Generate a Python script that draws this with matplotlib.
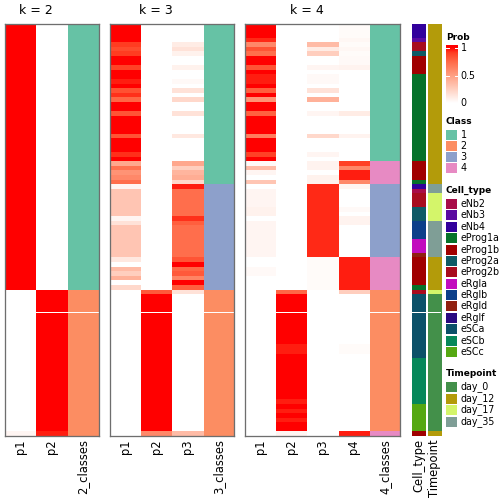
import numpy as np
import matplotlib.pyplot as plt
from matplotlib.colors import LinearSegmentedColormap, to_rgb
from matplotlib.patches import Rectangle

# ---- data (run-length: (value, number of rows)), 90 samples ----
k2_p1 = [(1, 58), (0, 31), (0.05, 1)]
k2_p2 = [(0, 58), (1, 31), (0.95, 1)]
k2_cls = [(1, 58), (2, 32)]

k3_p1 = [(1, 4), (0.9, 1), (0.85, 1), (0.9, 1), (1, 2), (0.88, 1), (1, 2), (0.95, 1), (1, 1),
         (0.83, 1), (0.92, 1), (0.75, 1), (1, 2), (0.82, 1), (1, 4), (0.82, 1), (1, 3), (0.92, 1),
         (1, 1), (0.45, 1), (0.7, 1), (0.55, 1), (0.6, 1), (0.72, 1), (0.05, 1), (0.3, 6),
         (0.05, 1), (0.15, 1), (0.3, 7), (0.12, 1), (0, 1), (0.35, 1), (0.25, 1), (0.4, 1),
         (0, 1), (0.2, 1), (0, 32)]
k3_p2 = [(0, 58), (0.8, 1), (1, 30), (0.6, 1)]
k3_p3 = [(0, 4), (0.1, 1), (0.15, 1), (0.07, 1), (0, 2), (0.07, 1), (0, 2), (0.03, 1), (0, 1),
         (0.15, 1), (0, 1), (0.2, 1), (0, 2), (0.15, 1), (0, 4), (0.12, 1), (0, 5), (0.45, 1),
         (0.25, 1), (0.38, 1), (0.42, 1), (0.2, 1), (0.95, 1), (0.72, 6), (0.92, 1), (0.78, 1),
         (0.72, 7), (0.82, 1), (1, 1), (0.75, 1), (0.8, 1), (0.62, 1), (1, 1), (0.78, 1),
         (0.15, 1), (0, 30), (0.35, 1)]
k3_cls = [(1, 35), (3, 23), (2, 32)]

k4_p1 = [(1, 3), (0.93, 1), (0.6, 1), (0.82, 1), (0.72, 1), (1, 2), (0.82, 1), (1, 1),
         (0.95, 1), (0.95, 1), (1, 1), (0.78, 1), (1, 1), (0.55, 1), (1, 2), (0.77, 1), (1, 4),
         (0.65, 1), (1, 3), (0.88, 1), (1, 1), (0.03, 1), (0.35, 1), (0.05, 1), (0, 1),
         (0.3, 1), (0, 1), (0.05, 4), (0.07, 2), (0, 1), (0.05, 8), (0, 2), (0.03, 2), (0, 35)]
k4_p2 = [(0, 58), (0.75, 1), (1, 11), (0.95, 2), (1, 10), (0.95, 1), (1, 1), (0.95, 1),
         (1, 1), (0.95, 1), (1, 2), (0.05, 1)]
k4_p3 = [(0, 4), (0.35, 1), (0.1, 1), (0.25, 1), (0, 2), (0.05, 1), (0, 1), (0.03, 1),
         (0.03, 1), (0, 1), (0.15, 1), (0, 1), (0.4, 1), (0, 2), (0.05, 1), (0, 4), (0.2, 1),
         (0, 3), (0.05, 1), (0, 1), (0.06, 1), (0.06, 1), (0, 1), (0.07, 1), (0.07, 1),
         (0.93, 16), (0.02, 7), (0, 32)]
k4_p4 = [(0.02, 3), (0.04, 1), (0.02, 1), (0.04, 1), (0.02, 1), (0.03, 2), (0.06, 1), (0, 9),
         (0.1, 1), (0, 4), (0.06, 1), (0, 5), (0.88, 1), (0.6, 1), (0.95, 2), (0.6, 1),
         (0.05, 1), (0, 4), (0.03, 1), (0, 1), (0.06, 2), (0, 7), (0.95, 7), (0.25, 1),
         (0, 11), (0.02, 2), (0, 17), (0.95, 1)]
k4_cls = [(1, 30), (4, 5), (3, 16), (4, 7), (2, 31), (4, 1)]

cell_type = [('eNb4', 3), ('eNb3', 1), ('eProg2b', 2), ('eProg2a', 1), ('eProg1b', 4),
             ('eProg1a', 19), ('eProg1b', 4), ('eProg1a', 1), ('eNb4', 1), ('eNb2', 1),
             ('eProg2b', 3), ('eProg2a', 3), ('eRglb', 4), ('eRgla', 3), ('eRgld', 1),
             ('eProg1b', 6), ('eProg1a', 1), ('eProg2b', 1), ('eSCa', 14), ('eSCb', 10),
             ('eSCc', 6), ('eProg1b', 1)]
timepoint = [('day_12', 35), ('day_35', 2), ('day_17', 6), ('day_35', 8), ('day_12', 7),
             ('day_17', 1), ('day_0', 30), ('day_12', 1)]

class_names = [1, 2, 3, 4]
class_colors = {1: '#66c2a5', 2: '#fc8d62', 3: '#8da0cb', 4: '#e78ac3'}
cell_names = ['eNb2', 'eNb3', 'eNb4', 'eProg1a', 'eProg1b', 'eProg2a', 'eProg2b',
              'eRgla', 'eRglb', 'eRgld', 'eRglf', 'eSCa', 'eSCb', 'eSCc']
cell_colors = {'eNb2': '#a80c48', 'eNb3': '#5a0aa0', 'eNb4': '#32009c', 'eProg1a': '#06722a',
               'eProg1b': '#a00000', 'eProg2a': '#0f5a66', 'eProg2b': '#a80c1e',
               'eRgla': '#c20cbe', 'eRglb': '#0c3f8a', 'eRgld': '#902010', 'eRglf': '#2a0a80',
               'eSCa': '#0b5169', 'eSCb': '#06885a', 'eSCc': '#55a812'}
time_names = ['day_0', 'day_12', 'day_17', 'day_35']
time_colors = {'day_0': '#43904a', 'day_12': '#b39b0a', 'day_17': '#d4f56a', 'day_35': '#7f9e96'}

prob_cmap = LinearSegmentedColormap.from_list(
    'prob', [(0, '#ffffff'), (0.25, '#ffcfbf'), (0.5, '#ff9e81'),
             (0.75, '#ff6846'), (0.9, '#ff3e22'), (1, '#ff0000')])


def expand(pairs):
    vals, counts = zip(*pairs)
    return np.repeat(np.array(vals, dtype=object), counts)


W = H = 504
fig = plt.figure(figsize=(7, 7), dpi=72)
plt.rcParams['font.family'] = 'DejaVu Sans'


def px_axes(x0, y0, x1, y1):
    return fig.add_axes([x0 / W, 1 - y1 / H, (x1 - x0) / W, (y1 - y0) / H])


TOP, BOT = 24, 436
panels = [
    ('k = 2', [k2_p1, k2_p2], k2_cls, (5, 98.5)),
    ('k = 3', [k3_p1, k3_p2, k3_p3], k3_cls, (109.5, 234)),
    ('k = 4', [k4_p1, k4_p2, k4_p3, k4_p4], k4_cls, (245, 400)),
]

for title, probs, cls, (x0, x1) in panels:
    ax = px_axes(x0, TOP, x1, BOT)
    cls_v = expand(cls)
    n = len(cls_v)
    ncol = len(probs) + 1
    img = np.zeros((n, ncol, 3))
    for j, p in enumerate(probs):
        img[:, j] = prob_cmap(expand(p).astype(float))[:, :3]
    img[:, -1] = [to_rgb(class_colors[c]) for c in cls_v]
    ax.imshow(img, aspect='auto', interpolation='nearest', extent=(0, ncol, n, 0))
    ax.axhline(63, color='white', lw=1)
    ax.set_xlim(0, ncol)
    ax.set_ylim(n, 0)
    k = len(probs)
    labels = ['p%d' % (i + 1) for i in range(k)] + ['%d_classes' % k]
    ax.set_xticks(np.arange(ncol) + 0.5)
    ax.set_xticklabels(labels, rotation=90, fontsize=11.5)
    ax.tick_params(length=0, pad=3)
    ax.set_yticks([])
    for s in ax.spines.values():
        s.set_color('#6e6e6e')
        s.set_linewidth(1.3)
    # title centred over probability columns
    cx = x0 + (x1 - x0) * k / ncol / 2
    fig.text(cx / W, 1 - 11 / H, title, ha='center', va='center', fontsize=12.5)

# annotation columns
for (x0, x1), runs, colors, name in [((412, 426), cell_type, cell_colors, 'Cell_type'),
                                     ((427.5, 441), timepoint, time_colors, 'Timepoint')]:
    ax = px_axes(x0, TOP, x1, BOT)
    v = expand(runs)
    img = np.array([to_rgb(colors[c]) for c in v])[:, None, :]
    ax.imshow(img, aspect='auto', interpolation='nearest', extent=(0, 1, len(v), 0))
    ax.axhline(63, color='white', lw=1)
    ax.set_xlim(0, 1)
    ax.set_ylim(len(v), 0)
    ax.set_xticks([0.5])
    ax.set_xticklabels([name], rotation=90, fontsize=11.5)
    ax.tick_params(length=0, pad=3)
    ax.set_yticks([])
    for s in ax.spines.values():
        s.set_visible(False)

# colour bar legend
cax = px_axes(446, 45, 458, 103.5)
top = 1 + 3 / 55.5
grad = np.linspace(top, 0, 200)[:, None]
cax.imshow(grad, cmap=prob_cmap, vmin=0, vmax=1, aspect='auto', extent=(0, 1, 0, top))
for v in (0.5, 1):
    cax.plot([0, 0.28], [v, v], color='white', lw=1)
    cax.plot([0.72, 1], [v, v], color='white', lw=1)
cax.set_xlim(0, 1)
cax.set_ylim(0, top)
cax.axis('off')

lg = fig.add_axes([0, 0, 1, 1])
lg.set_xlim(0, W)
lg.set_ylim(H, 0)
lg.axis('off')

lg.text(446, 37, 'Prob', fontsize=9, fontweight='bold', va='center')
for v, y in [('1', 48), ('0.5', 76), ('0', 103.5)]:
    lg.text(460.5, y, v, fontsize=9.5, va='center')


def legend_block(title, names, colors, ty, y0, step, h):
    lg.text(446, ty, title, fontsize=9, fontweight='bold', va='center')
    for i, nm in enumerate(names):
        yc = y0 + i * step
        lg.add_patch(Rectangle((446, yc - h / 2), 11, h, facecolor=colors[nm], edgecolor='none'))
        lg.text(460.5, yc, str(nm), fontsize=9.5, va='center')


legend_block('Class', class_names, class_colors, 121, 135, 11, 10)
legend_block('Cell_type', cell_names, cell_colors, 190, 204, 11.38, 10)
legend_block('Timepoint', time_names, time_colors, 373, 387, 11.5, 10)

fig.savefig('out.png', dpi=72)
